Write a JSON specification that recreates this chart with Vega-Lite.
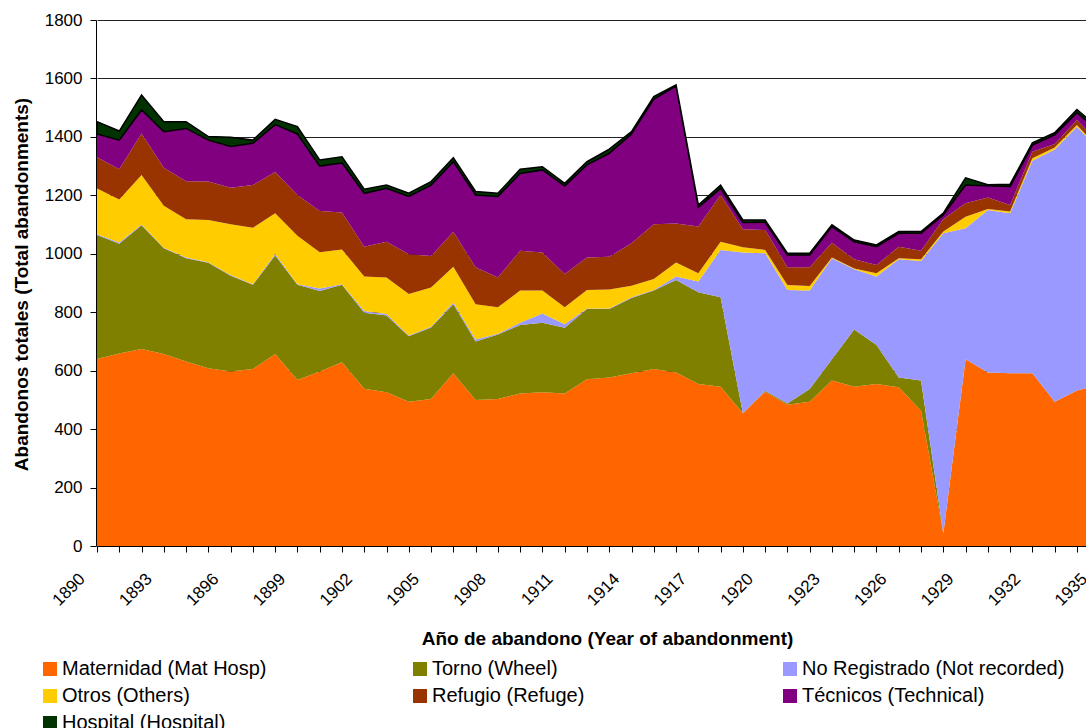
{
  "$schema": "https://vega.github.io/schema/vega-lite/v6.json",
  "usermeta": {"embedOptions": {"actions": false}},
  "width": 989,
  "height": 526,
  "autosize": {"type": "none"},
  "padding": {"left": 97, "top": 20, "right": 0, "bottom": 182},
  "background": "white",
  "config": {"font": "Liberation Sans", "view": {"stroke": null}},
  "data": {"values": [
    {"year": 1890, "Maternidad (Mat Hosp)": 640, "Torno (Wheel)": 424, "No Registrado (Not recorded)": 3, "Otros (Others)": 156, "Refugio (Refuge)": 107, "Técnicos (Technical)": 80, "Hospital (Hospital)": 42},
    {"year": 1891, "Maternidad (Mat Hosp)": 659, "Torno (Wheel)": 375, "No Registrado (Not recorded)": 5, "Otros (Others)": 147, "Refugio (Refuge)": 103, "Técnicos (Technical)": 100, "Hospital (Hospital)": 31},
    {"year": 1892, "Maternidad (Mat Hosp)": 674, "Torno (Wheel)": 424, "No Registrado (Not recorded)": 2, "Otros (Others)": 170, "Refugio (Refuge)": 142, "Técnicos (Technical)": 80, "Hospital (Hospital)": 51},
    {"year": 1893, "Maternidad (Mat Hosp)": 657, "Torno (Wheel)": 362, "No Registrado (Not recorded)": 2, "Otros (Others)": 143, "Refugio (Refuge)": 130, "Técnicos (Technical)": 124, "Hospital (Hospital)": 34},
    {"year": 1894, "Maternidad (Mat Hosp)": 631, "Torno (Wheel)": 354, "No Registrado (Not recorded)": 2, "Otros (Others)": 131, "Refugio (Refuge)": 130, "Técnicos (Technical)": 181, "Hospital (Hospital)": 23},
    {"year": 1895, "Maternidad (Mat Hosp)": 608, "Torno (Wheel)": 361, "No Registrado (Not recorded)": 2, "Otros (Others)": 145, "Refugio (Refuge)": 131, "Técnicos (Technical)": 142, "Hospital (Hospital)": 12},
    {"year": 1896, "Maternidad (Mat Hosp)": 597, "Torno (Wheel)": 328, "No Registrado (Not recorded)": 2, "Otros (Others)": 174, "Refugio (Refuge)": 125, "Técnicos (Technical)": 141, "Hospital (Hospital)": 32},
    {"year": 1897, "Maternidad (Mat Hosp)": 606, "Torno (Wheel)": 288, "No Registrado (Not recorded)": 2, "Otros (Others)": 193, "Refugio (Refuge)": 146, "Técnicos (Technical)": 143, "Hospital (Hospital)": 11},
    {"year": 1898, "Maternidad (Mat Hosp)": 657, "Torno (Wheel)": 337, "No Registrado (Not recorded)": 5, "Otros (Others)": 140, "Refugio (Refuge)": 141, "Técnicos (Technical)": 162, "Hospital (Hospital)": 18},
    {"year": 1899, "Maternidad (Mat Hosp)": 568, "Torno (Wheel)": 326, "No Registrado (Not recorded)": 2, "Otros (Others)": 166, "Refugio (Refuge)": 139, "Técnicos (Technical)": 209, "Hospital (Hospital)": 25},
    {"year": 1900, "Maternidad (Mat Hosp)": 597, "Torno (Wheel)": 276, "No Registrado (Not recorded)": 8, "Otros (Others)": 124, "Refugio (Refuge)": 141, "Técnicos (Technical)": 154, "Hospital (Hospital)": 21},
    {"year": 1901, "Maternidad (Mat Hosp)": 629, "Torno (Wheel)": 265, "No Registrado (Not recorded)": 2, "Otros (Others)": 119, "Refugio (Refuge)": 126, "Técnicos (Technical)": 170, "Hospital (Hospital)": 21},
    {"year": 1902, "Maternidad (Mat Hosp)": 538, "Torno (Wheel)": 260, "No Registrado (Not recorded)": 6, "Otros (Others)": 118, "Refugio (Refuge)": 102, "Técnicos (Technical)": 183, "Hospital (Hospital)": 14},
    {"year": 1903, "Maternidad (Mat Hosp)": 526, "Torno (Wheel)": 263, "No Registrado (Not recorded)": 5, "Otros (Others)": 125, "Refugio (Refuge)": 122, "Técnicos (Technical)": 183, "Hospital (Hospital)": 11},
    {"year": 1904, "Maternidad (Mat Hosp)": 494, "Torno (Wheel)": 224, "No Registrado (Not recorded)": 2, "Otros (Others)": 142, "Refugio (Refuge)": 136, "Técnicos (Technical)": 198, "Hospital (Hospital)": 11},
    {"year": 1905, "Maternidad (Mat Hosp)": 503, "Torno (Wheel)": 245, "No Registrado (Not recorded)": 2, "Otros (Others)": 135, "Refugio (Refuge)": 107, "Técnicos (Technical)": 243, "Hospital (Hospital)": 12},
    {"year": 1906, "Maternidad (Mat Hosp)": 591, "Torno (Wheel)": 236, "No Registrado (Not recorded)": 6, "Otros (Others)": 123, "Refugio (Refuge)": 119, "Técnicos (Technical)": 240, "Hospital (Hospital)": 14},
    {"year": 1907, "Maternidad (Mat Hosp)": 500, "Torno (Wheel)": 200, "No Registrado (Not recorded)": 7, "Otros (Others)": 120, "Refugio (Refuge)": 127, "Técnicos (Technical)": 247, "Hospital (Hospital)": 12},
    {"year": 1908, "Maternidad (Mat Hosp)": 503, "Torno (Wheel)": 221, "No Registrado (Not recorded)": 2, "Otros (Others)": 91, "Refugio (Refuge)": 102, "Técnicos (Technical)": 277, "Hospital (Hospital)": 11},
    {"year": 1909, "Maternidad (Mat Hosp)": 522, "Torno (Wheel)": 234, "No Registrado (Not recorded)": 8, "Otros (Others)": 110, "Refugio (Refuge)": 136, "Técnicos (Technical)": 265, "Hospital (Hospital)": 14},
    {"year": 1910, "Maternidad (Mat Hosp)": 526, "Torno (Wheel)": 238, "No Registrado (Not recorded)": 32, "Otros (Others)": 78, "Refugio (Refuge)": 130, "Técnicos (Technical)": 283, "Hospital (Hospital)": 11},
    {"year": 1911, "Maternidad (Mat Hosp)": 522, "Torno (Wheel)": 225, "No Registrado (Not recorded)": 12, "Otros (Others)": 58, "Refugio (Refuge)": 114, "Técnicos (Technical)": 301, "Hospital (Hospital)": 9},
    {"year": 1912, "Maternidad (Mat Hosp)": 571, "Torno (Wheel)": 240, "No Registrado (Not recorded)": 2, "Otros (Others)": 63, "Refugio (Refuge)": 111, "Técnicos (Technical)": 317, "Hospital (Hospital)": 11},
    {"year": 1913, "Maternidad (Mat Hosp)": 577, "Torno (Wheel)": 234, "No Registrado (Not recorded)": 2, "Otros (Others)": 65, "Refugio (Refuge)": 112, "Técnicos (Technical)": 354, "Hospital (Hospital)": 14},
    {"year": 1914, "Maternidad (Mat Hosp)": 591, "Torno (Wheel)": 258, "No Registrado (Not recorded)": 2, "Otros (Others)": 40, "Refugio (Refuge)": 145, "Técnicos (Technical)": 374, "Hospital (Hospital)": 8},
    {"year": 1915, "Maternidad (Mat Hosp)": 606, "Torno (Wheel)": 268, "No Registrado (Not recorded)": 2, "Otros (Others)": 38, "Refugio (Refuge)": 187, "Técnicos (Technical)": 428, "Hospital (Hospital)": 9},
    {"year": 1916, "Maternidad (Mat Hosp)": 594, "Torno (Wheel)": 316, "No Registrado (Not recorded)": 12, "Otros (Others)": 48, "Refugio (Refuge)": 134, "Técnicos (Technical)": 470, "Hospital (Hospital)": 4},
    {"year": 1917, "Maternidad (Mat Hosp)": 554, "Torno (Wheel)": 314, "No Registrado (Not recorded)": 37, "Otros (Others)": 28, "Refugio (Refuge)": 160, "Técnicos (Technical)": 66, "Hospital (Hospital)": 8},
    {"year": 1918, "Maternidad (Mat Hosp)": 545, "Torno (Wheel)": 306, "No Registrado (Not recorded)": 162, "Otros (Others)": 28, "Refugio (Refuge)": 160, "Técnicos (Technical)": 23, "Hospital (Hospital)": 11},
    {"year": 1919, "Maternidad (Mat Hosp)": 454, "Torno (Wheel)": 0, "No Registrado (Not recorded)": 550, "Otros (Others)": 18, "Refugio (Refuge)": 62, "Técnicos (Technical)": 23, "Hospital (Hospital)": 9},
    {"year": 1920, "Maternidad (Mat Hosp)": 528, "Torno (Wheel)": 3, "No Registrado (Not recorded)": 471, "Otros (Others)": 11, "Refugio (Refuge)": 68, "Técnicos (Technical)": 27, "Hospital (Hospital)": 8},
    {"year": 1921, "Maternidad (Mat Hosp)": 483, "Torno (Wheel)": 5, "No Registrado (Not recorded)": 388, "Otros (Others)": 17, "Refugio (Refuge)": 61, "Técnicos (Technical)": 42, "Hospital (Hospital)": 6},
    {"year": 1922, "Maternidad (Mat Hosp)": 494, "Torno (Wheel)": 43, "No Registrado (Not recorded)": 337, "Otros (Others)": 16, "Refugio (Refuge)": 64, "Técnicos (Technical)": 42, "Hospital (Hospital)": 6},
    {"year": 1923, "Maternidad (Mat Hosp)": 566, "Torno (Wheel)": 73, "No Registrado (Not recorded)": 346, "Otros (Others)": 2, "Refugio (Refuge)": 51, "Técnicos (Technical)": 55, "Hospital (Hospital)": 6},
    {"year": 1924, "Maternidad (Mat Hosp)": 545, "Torno (Wheel)": 196, "No Registrado (Not recorded)": 206, "Otros (Others)": 3, "Refugio (Refuge)": 31, "Técnicos (Technical)": 60, "Hospital (Hospital)": 6},
    {"year": 1925, "Maternidad (Mat Hosp)": 554, "Torno (Wheel)": 134, "No Registrado (Not recorded)": 234, "Otros (Others)": 11, "Refugio (Refuge)": 29, "Técnicos (Technical)": 62, "Hospital (Hospital)": 6},
    {"year": 1926, "Maternidad (Mat Hosp)": 543, "Torno (Wheel)": 34, "No Registrado (Not recorded)": 404, "Otros (Others)": 4, "Refugio (Refuge)": 39, "Técnicos (Technical)": 46, "Hospital (Hospital)": 6},
    {"year": 1927, "Maternidad (Mat Hosp)": 463, "Torno (Wheel)": 103, "No Registrado (Not recorded)": 409, "Otros (Others)": 6, "Refugio (Refuge)": 29, "Técnicos (Technical)": 60, "Hospital (Hospital)": 6},
    {"year": 1928, "Maternidad (Mat Hosp)": 43, "Torno (Wheel)": 0, "No Registrado (Not recorded)": 1027, "Otros (Others)": 6, "Refugio (Refuge)": 42, "Técnicos (Technical)": 15, "Hospital (Hospital)": 6},
    {"year": 1929, "Maternidad (Mat Hosp)": 639, "Torno (Wheel)": 0, "No Registrado (Not recorded)": 448, "Otros (Others)": 40, "Refugio (Refuge)": 46, "Técnicos (Technical)": 62, "Hospital (Hospital)": 25},
    {"year": 1930, "Maternidad (Mat Hosp)": 594, "Torno (Wheel)": 0, "No Registrado (Not recorded)": 556, "Otros (Others)": 3, "Refugio (Refuge)": 40, "Técnicos (Technical)": 40, "Hospital (Hospital)": 3},
    {"year": 1931, "Maternidad (Mat Hosp)": 591, "Torno (Wheel)": 0, "No Registrado (Not recorded)": 548, "Otros (Others)": 6, "Refugio (Refuge)": 22, "Técnicos (Technical)": 63, "Hospital (Hospital)": 8},
    {"year": 1932, "Maternidad (Mat Hosp)": 591, "Torno (Wheel)": 0, "No Registrado (Not recorded)": 727, "Otros (Others)": 9, "Refugio (Refuge)": 22, "Técnicos (Technical)": 23, "Hospital (Hospital)": 8},
    {"year": 1933, "Maternidad (Mat Hosp)": 494, "Torno (Wheel)": 0, "No Registrado (Not recorded)": 863, "Otros (Others)": 7, "Refugio (Refuge)": 12, "Técnicos (Technical)": 31, "Hospital (Hospital)": 7},
    {"year": 1934, "Maternidad (Mat Hosp)": 532, "Torno (Wheel)": 0, "No Registrado (Not recorded)": 903, "Otros (Others)": 6, "Refugio (Refuge)": 17, "Técnicos (Technical)": 25, "Hospital (Hospital)": 11},
    {"year": 1935, "Maternidad (Mat Hosp)": 551, "Torno (Wheel)": 0, "No Registrado (Not recorded)": 803, "Otros (Others)": 5, "Refugio (Refuge)": 18, "Técnicos (Technical)": 40, "Hospital (Hospital)": 12}
  ]},
  "transform": [
    {"fold": ["Maternidad (Mat Hosp)", "Torno (Wheel)", "No Registrado (Not recorded)", "Otros (Others)", "Refugio (Refuge)", "Técnicos (Technical)", "Hospital (Hospital)"], "as": ["serie", "n"]},
    {"calculate": "indexof(['Maternidad (Mat Hosp)', 'Torno (Wheel)', 'No Registrado (Not recorded)', 'Otros (Others)', 'Refugio (Refuge)', 'Técnicos (Technical)', 'Hospital (Hospital)'], datum.serie)", "as": "ord"}
  ],
  "mark": {"type": "area", "clip": true, "strokeWidth": 1.5, "interpolate": "linear"},
  "encoding": {
    "x": {
      "field": "year", "type": "quantitative",
      "scale": {"domain": [1890, 1935], "range": [0, 1002.2], "nice": false, "zero": false},
      "axis": {
        "values": [1890,1891,1892,1893,1894,1895,1896,1897,1898,1899,1900,1901,1902,1903,1904,1905,1906,1907,1908,1909,1910,1911,1912,1913,1914,1915,1916,1917,1918,1919,1920,1921,1922,1923,1924,1925,1926,1927,1928,1929,1930,1931,1932,1933,1934,1935],
        "format": "d",
        "labelExpr": "(datum.value - 1890) % 3 === 0 ? datum.label : ''",
        "labelAngle": -45, "labelAlign": "right", "labelBaseline": "middle",
        "labelFontSize": 17, "labelColor": "#000", "labelPadding": 24, "labelOffset": -15,
        "labelOverlap": false, "labelFlush": false,
        "tickSize": 6, "tickColor": "#000", "domainColor": "#000", "grid": false, "zindex": 0,
        "title": "Año de abandono (Year of abandonment)",
        "titleFontSize": 19, "titleFontWeight": "bold", "titleColor": "#000",
        "titleX": 510, "titleY": 98, "titleAlign": "center", "titleBaseline": "alphabetic"
      }
    },
    "y": {
      "field": "n", "type": "quantitative", "stack": "zero",
      "scale": {"domain": [0, 1800], "nice": false},
      "axis": {
        "values": [0,200,400,600,800,1000,1200,1400,1600,1800],
        "format": "d", "offset": 1,
        "labelFontSize": 17, "labelColor": "#000", "labelPadding": 8,
        "tickSize": 6, "tickColor": "#000", "domainColor": "#000",
        "grid": true, "gridColor": "#222", "gridWidth": 1, "zindex": 0,
        "title": "Abandonos totales (Total abandonments)",
        "titleFontSize": 19, "titleFontWeight": "bold", "titleColor": "#000",
        "titleX": -69, "titleY": 264, "titleAngle": -90, "titleAlign": "center", "titleBaseline": "alphabetic"
      }
    },
    "color": {
      "field": "serie", "type": "nominal",
      "scale": {
        "domain": ["Maternidad (Mat Hosp)", "Torno (Wheel)", "No Registrado (Not recorded)", "Otros (Others)", "Refugio (Refuge)", "Técnicos (Technical)", "Hospital (Hospital)"],
        "range": ["#FF6600", "#808000", "#9999FF", "#FFCC00", "#993300", "#800080", "#003300"]
      },
      "legend": {
        "orient": "none", "legendX": -57, "legendY": 639,
        "direction": "horizontal", "columns": 3, "gridAlign": "all",
        "columnPadding": 85, "rowPadding": 7, "padding": 0,
        "symbolType": "square", "symbolSize": 196, "symbolStrokeWidth": 0,
        "labelFontSize": 20, "labelColor": "#000", "labelOffset": 2, "labelLimit": 500,
        "title": null
      }
    },
    "order": {"field": "ord", "type": "quantitative"},
    "stroke": {"condition": {"test": "datum.serie === 'Hospital (Hospital)'", "value": "#000000"}, "value": "transparent"}
  }
}
